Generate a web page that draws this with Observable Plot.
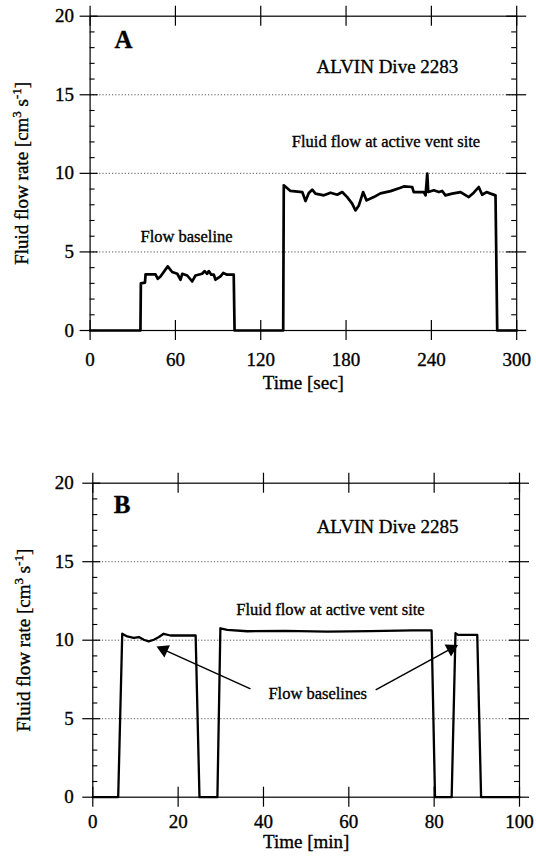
<!DOCTYPE html>
<html><head><meta charset="utf-8">
<script src="https://cdn.jsdelivr.net/npm/d3@7"></script>
<script src="https://cdn.jsdelivr.net/npm/@observablehq/plot@0.6"></script>
<style>
html,body{margin:0;padding:0;background:#fff;}
#chart svg{display:block;}
</style></head><body><div id="chart"></div>
<script>
// ---------- Panel A: ALVIN Dive 2283 (time in sec) ----------
const timeA = [0, 35.4, 35.7, 38.6, 39.0, 46.0, 47.6, 49.5, 54.6, 57.7, 61.3, 63.6, 64.8, 68.3, 71.8, 74.1, 78.8, 80.5, 82.3, 83.5, 85.2, 87.0, 88.2, 91.7, 93.6, 96.4, 101.0, 101.6,
  135.8, 136.2, 140.9, 149.2, 151.5, 153.8, 156.2, 158.5, 164.4, 169.1, 173.8, 177.3, 180.8, 184.3, 186.6, 189.0, 192.0, 194.4, 199.5, 204.2, 211.3, 218.3, 220.6, 226.5, 227.6, 234.7, 235.9, 237.1, 237.8, 241.7, 245.2, 247.6, 249.9, 254.6, 260.5, 266.3, 269.8, 273.3, 275.7, 278.8, 281.6, 285.1, 286.3, 300];
const flowA = [0, 0, 3.00, 3.05, 3.57, 3.57, 3.29, 3.44, 4.08, 3.72, 3.61, 3.23, 3.61, 3.50, 3.12, 3.50, 3.61, 3.78, 3.61, 3.78, 3.55, 3.55, 3.23, 3.44, 3.66, 3.55, 3.55, 0,
  0, 9.24, 8.88, 8.81, 8.24, 8.75, 8.96, 8.71, 8.60, 8.77, 8.64, 8.81, 8.49, 8.07, 7.64, 7.96, 8.81, 8.28, 8.49, 8.73, 8.87, 9.09, 9.17, 9.13, 8.81, 8.81, 8.60, 9.98, 8.81, 8.92, 8.81, 8.88, 8.60, 8.71, 8.81, 8.49, 8.77, 9.13, 8.64, 8.81, 8.71, 8.60, 0, 0];

// ---------- Panel B: ALVIN Dive 2285 (time in min) ----------
const timeB = [0, 5.95, 6.9, 8.06, 9.6, 10.8, 11.95, 13.1, 14.3, 15.5, 16.6, 18.2, 24.1, 25.0, 29.2, 29.9, 31.5, 36.2, 45, 55, 65, 75, 79.4, 80.2, 84.1, 85.0, 85.6, 90.1, 91.0, 100];
const flowB = [0, 0, 10.41, 10.24, 10.15, 10.20, 10.03, 9.92, 10.03, 10.20, 10.41, 10.30, 10.30, 0, 0, 10.76, 10.66, 10.57, 10.60, 10.55, 10.58, 10.62, 10.62, 0, 0, 10.45, 10.34, 10.34, 0, 0];

// ---------- Axes ----------
const ticksA = [0, 60, 120, 180, 240, 300];
const ticksB = [0, 20, 40, 60, 80, 100];
const yTicks = [0, 5, 10, 15, 20];
const yMinor = [1, 2, 3, 4, 6, 7, 8, 9, 11, 12, 13, 14, 16, 17, 18, 19];
const yGrid = [5, 10, 15];
const yLabel = "Fluid flow rate [cm3 s-1]";
const xLabelA = "Time [sec]";
const xLabelB = "Time [min]";

// ---------- Annotations (data coordinates) ----------
const letterA = "A", letterB = "B";
const letterAt = [23.5], letterAv = [18.47];
const letterBt = [6.84], letterBv = [18.58];
const notesA = ["ALVIN Dive 2283", "Fluid flow at active vent site", "Flow baseline"];
const notesAt = [209.1, 208.1, 67.8];
const notesAv = [16.75, 12.04, 5.99];
const notesB = ["ALVIN Dive 2285", "Fluid flow at active vent site", "Flow baselines"];
const notesBt = [69.07, 55.7, 52.7];
const notesBv = [17.24, 11.96, 6.6];
const arrowTailT = [36.96, 66.3];
const arrowTailV = [6.9, 6.84];
const arrowTipT = [14.93, 85.6];
const arrowTipV = [9.6, 9.7];

const W = 536;
const FONT = "Liberation Serif, Times New Roman, serif";
const TS = 0.35; // slight glyph thickening, like the printed scan

function panel(o) {
  const innerW = W - o.ml - o.mr, innerH = o.h - o.mt - o.mb;
  const kx = innerW / o.xmax, ky = innerH / 20;
  const series = o.t.map((t, i) => ({t, v: o.v[i]}));
  const notes = o.notes.map((s, i) => ({s, t: o.nt[i], v: o.nv[i], size: i === 0 ? 19 : 16.5}));
  const tx = 10 / kx, ty = 10 / ky;
  const txt = {fontFamily: FONT, fill: "black", stroke: "black", strokeWidth: TS, textAnchor: "middle", lineAnchor: "middle"};
  const marks = [
    Plot.ruleY(yGrid, {stroke: "#444", strokeWidth: 0.9, strokeDasharray: "1.2,2"}),
    Plot.frame({stroke: "black", strokeWidth: 1.2}),
    // crossing major ticks
    Plot.ruleX(o.ticks, {x: d => d, y1: -ty, y2: ty, stroke: "black", strokeWidth: 1.2}),
    Plot.ruleX(o.ticks, {x: d => d, y1: 20 - ty, y2: 20 + ty, stroke: "black", strokeWidth: 1.2}),
    Plot.ruleY(yTicks, {y: d => d, x1: -tx, x2: 0.8 * tx, stroke: "black", strokeWidth: 1.2}),
    Plot.ruleY(yTicks, {y: d => d, x1: o.xmax - tx, x2: o.xmax + tx, stroke: "black", strokeWidth: 1.2}),
    // minor ticks (inward)
    Plot.ruleY(yMinor, {y: d => d, x1: 0, x2: 0.5 * tx, stroke: "black", strokeWidth: 1.1}),
    Plot.ruleY(yMinor, {y: d => d, x1: o.xmax - 0.5 * tx, x2: o.xmax, stroke: "black", strokeWidth: 1.1}),
    Plot.axisX(o.ticks, {tickSize: 0, tickPadding: o.xPad, fontSize: 19, fontFamily: FONT, label: null, textStroke: "black", textStrokeWidth: TS}),
    Plot.axisY(yTicks, {tickSize: 0, tickPadding: o.yPad, fontSize: 19, fontFamily: FONT, label: null, textStroke: "black", textStrokeWidth: TS}),
    Plot.text([yLabel], {...txt, frameAnchor: "left", rotate: -90, dx: -68.5, fontSize: 19}),
    Plot.text([o.xLabel], {...txt, frameAnchor: "bottom", dy: o.xLabDy, fontSize: 19}),
    Plot.line(series, {x: "t", y: "v", stroke: "black", strokeWidth: o.lw, strokeLinejoin: "round"}),
    Plot.text([o.letter], {...txt, x: () => o.lt[0], y: () => o.lv[0], fontSize: 25, fontWeight: "bold"}),
    Plot.text(notes, {...txt, x: "t", y: "v", text: "s", fontSize: "size"})
  ];
  if (o.arrows) {
    const arr = arrowTailT.map((t, i) => {
      const x1 = t, y1 = arrowTailV[i], x2 = arrowTipT[i], y2 = arrowTipV[i];
      const dxp = (x2 - x1) * kx, dyp = -(y2 - y1) * ky; // screen space
      const len = Math.hypot(dxp, dyp);
      const ux = dxp / len, uy = dyp / len;
      const back = 7.8; // tip to triangle centroid, px
      const hx = x2 - ux * back / kx, hy = y2 + uy * back / ky;
      const ang = Math.atan2(ux, -uy) * 180 / Math.PI;
      return {x1, y1, hx, hy, ang};
    });
    marks.push(Plot.link(arr, {x1: "x1", y1: "y1", x2: "hx", y2: "hy", stroke: "black", strokeWidth: 1.5}));
    marks.push(Plot.dot(arr, {x: "hx", y: "hy", symbol: "triangle", r: 5, fill: "black", stroke: "none", rotate: "ang"}));
  }
  const svg = Plot.plot({
    width: W, height: o.h,
    marginLeft: o.ml, marginRight: o.mr, marginTop: o.mt, marginBottom: o.mb,
    x: {domain: [0, o.xmax], label: null},
    y: {domain: [0, 20], label: null},
    style: {fontFamily: FONT, color: "black", background: "white", overflow: "visible"},
    marks
  });
  // superscripts in the y-axis label
  d3.select(svg).selectAll("text").filter(function () { return this.textContent === yLabel; }).each(function () {
    const t = d3.select(this);
    t.text(null);
    t.append("tspan").text("Fluid flow rate [cm");
    t.append("tspan").attr("dy", -7).attr("font-size", 13).text("3");
    t.append("tspan").attr("dy", 7).text(" s");
    t.append("tspan").attr("dy", -7).attr("font-size", 13).text("-1");
    t.append("tspan").attr("dy", 7).text("]");
  });
  return svg;
}

const root = document.getElementById("chart");
root.appendChild(panel({
  t: timeA, v: flowA, xmax: 300, ticks: ticksA, xLabel: xLabelA,
  ml: 89.6, mr: 19.8, mt: 15.7, mb: 100, h: 430,
  xPad: 22, yPad: 16, xLabDy: 52, lw: 2.7,
  letter: letterA, lt: letterAt, lv: letterAv,
  notes: notesA, nt: notesAt, nv: notesAv, arrows: false
}));
root.appendChild(panel({
  t: timeB, v: flowB, xmax: 100, ticks: ticksB, xLabel: xLabelB,
  ml: 92.3, mr: 17, mt: 52.7, mb: 62.3, h: 429,
  xPad: 17, yPad: 19, xLabDy: 45, lw: 2.3,
  letter: letterB, lt: letterBt, lv: letterBv,
  notes: notesB, nt: notesBt, nv: notesBv, arrows: true
}));
</script></body></html>
